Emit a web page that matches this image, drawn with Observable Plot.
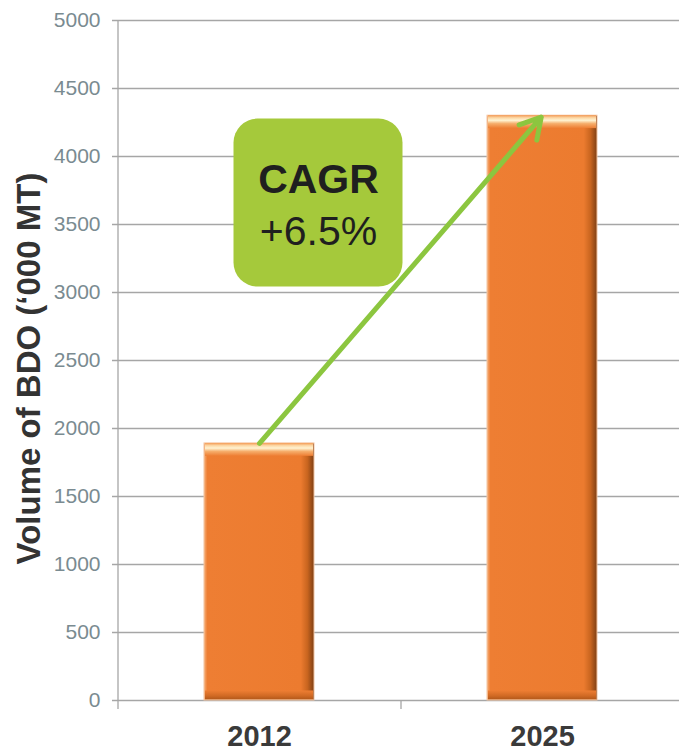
<!DOCTYPE html>
<html><head><meta charset="utf-8">
<script src="https://cdn.jsdelivr.net/npm/d3@7"></script>
<script src="https://cdn.jsdelivr.net/npm/@observablehq/plot@0.6"></script>
<style>body{margin:0;background:#fff;font-family:"Liberation Sans",Arial,sans-serif}</style>
</head><body><div id="chart"></div>
<script>
const years = ["2012", "2025"];
const volumes = [1890, 4300];
const yTicks = [0, 500, 1000, 1500, 2000, 2500, 3000, 3500, 4000, 4500, 5000];
const yTitle = "Volume of BDO (‘000 MT)";
const cagrTitle = "CAGR";
const cagrValue = "+6.5%";
const data = years.map((year, i) => ({year, volume: volumes[i]}));

function defs() {
  const d = d3.create("svg:defs");
  const grad = (id, vertical, stops) => {
    const g = d.append("linearGradient").attr("id", id)
      .attr("x1", 0).attr("y1", 0).attr("x2", vertical ? 0 : 1).attr("y2", vertical ? 1 : 0);
    stops.forEach(([o, c]) => g.append("stop").attr("offset", o).attr("stop-color", c));
  };
  grad("barH", false, [[0, "#f6b07a"], [0.03, "#ee7e33"], [0.88, "#ec7b2f"], [0.94, "#c9651f"], [1, "#7e3f14"]]);
  grad("barT", true, [[0, "#f39a55"], [0.2, "#fcd7a4"], [0.4, "#fff3d2"], [0.65, "#f6ae6c"], [1, "#ee7e33"]]);
  grad("barB", true, [[0, "#ee7e33"], [0.55, "#d16a24"], [0.85, "#b95c1c"], [1, "#f6c49c"]]);
  return d.node();
}

const chart = Plot.plot({
  width: 679,
  height: 753,
  marginTop: 20,
  marginBottom: 53,
  marginLeft: 118,
  marginRight: 0,
  style: {fontFamily: "'Liberation Sans', Arial, sans-serif", background: "#fff"},
  x: {domain: years, range: [118, 684], paddingInner: 0.611, paddingOuter: 0.3055, axis: null},
  y: {domain: [0, 5000], axis: null},
  marks: [
    defs,
    Plot.ruleY(yTicks, {stroke: "#a6a6a6", strokeWidth: 1.3, insetLeft: -6}),
    Plot.ruleX([years[0]], {x: d => d, dx: -141.5, y1: () => -66, y2: () => 5000, stroke: "#a6a6a6", strokeWidth: 1.3}),
    Plot.ruleX([years[1]], {x: d => d, dx: -141.5, y1: () => -66, y2: () => 0, stroke: "#a6a6a6", strokeWidth: 1.3}),
    Plot.barY(data, {x: "year", y: "volume", fill: "url(#barH)", stroke: "#f4c4a0", strokeWidth: 1}),
    Plot.barY(data, {x: "year", y1: d => d.volume, y2: d => d.volume - 95, fill: "url(#barT)", insetLeft: 1, insetRight: 1}),
    Plot.barY(data, {x: "year", y1: () => 0, y2: () => 70, fill: "url(#barB)", insetLeft: 1, insetRight: 1}),
    Plot.barY([cagrTitle], {x: () => years[0], y1: () => 3040, y2: () => 4275, insetLeft: 29.5, insetRight: -88.5, rx: 24, fill: "#a5c93b"}),
    Plot.arrow([0], {x1: () => years[0], y1: () => volumes[0], x2: () => years[1], y2: () => volumes[1], stroke: "#8cc63f", strokeWidth: 5, headLength: 7, insetEnd: 2}),
    Plot.text([cagrTitle], {x: () => years[0], y: () => 3831, dx: 59, fontSize: 41, fontWeight: "bold", fill: "#1f1f1f"}),
    Plot.text([cagrValue], {x: () => years[0], y: () => 3449, dx: 59, fontSize: 41, fill: "#1f1f1f"}),
    Plot.axisX({tickSize: 0, tickPadding: 25, fontSize: 29, fontWeight: "bold", color: "#3a3a3a", label: null}),
    Plot.axisY(yTicks, {tickSize: 0, tickPadding: 18, fontSize: 21, color: "#7a8b91", label: null, tickFormat: d => String(d)}),
    Plot.text([yTitle], {frameAnchor: "left", textAnchor: "middle", rotate: -90, dx: -89, dy: 8, fontSize: 33, fontWeight: "bold", fill: "#333333"})
  ]
});
document.getElementById("chart").append(chart);
</script>
</body></html>
